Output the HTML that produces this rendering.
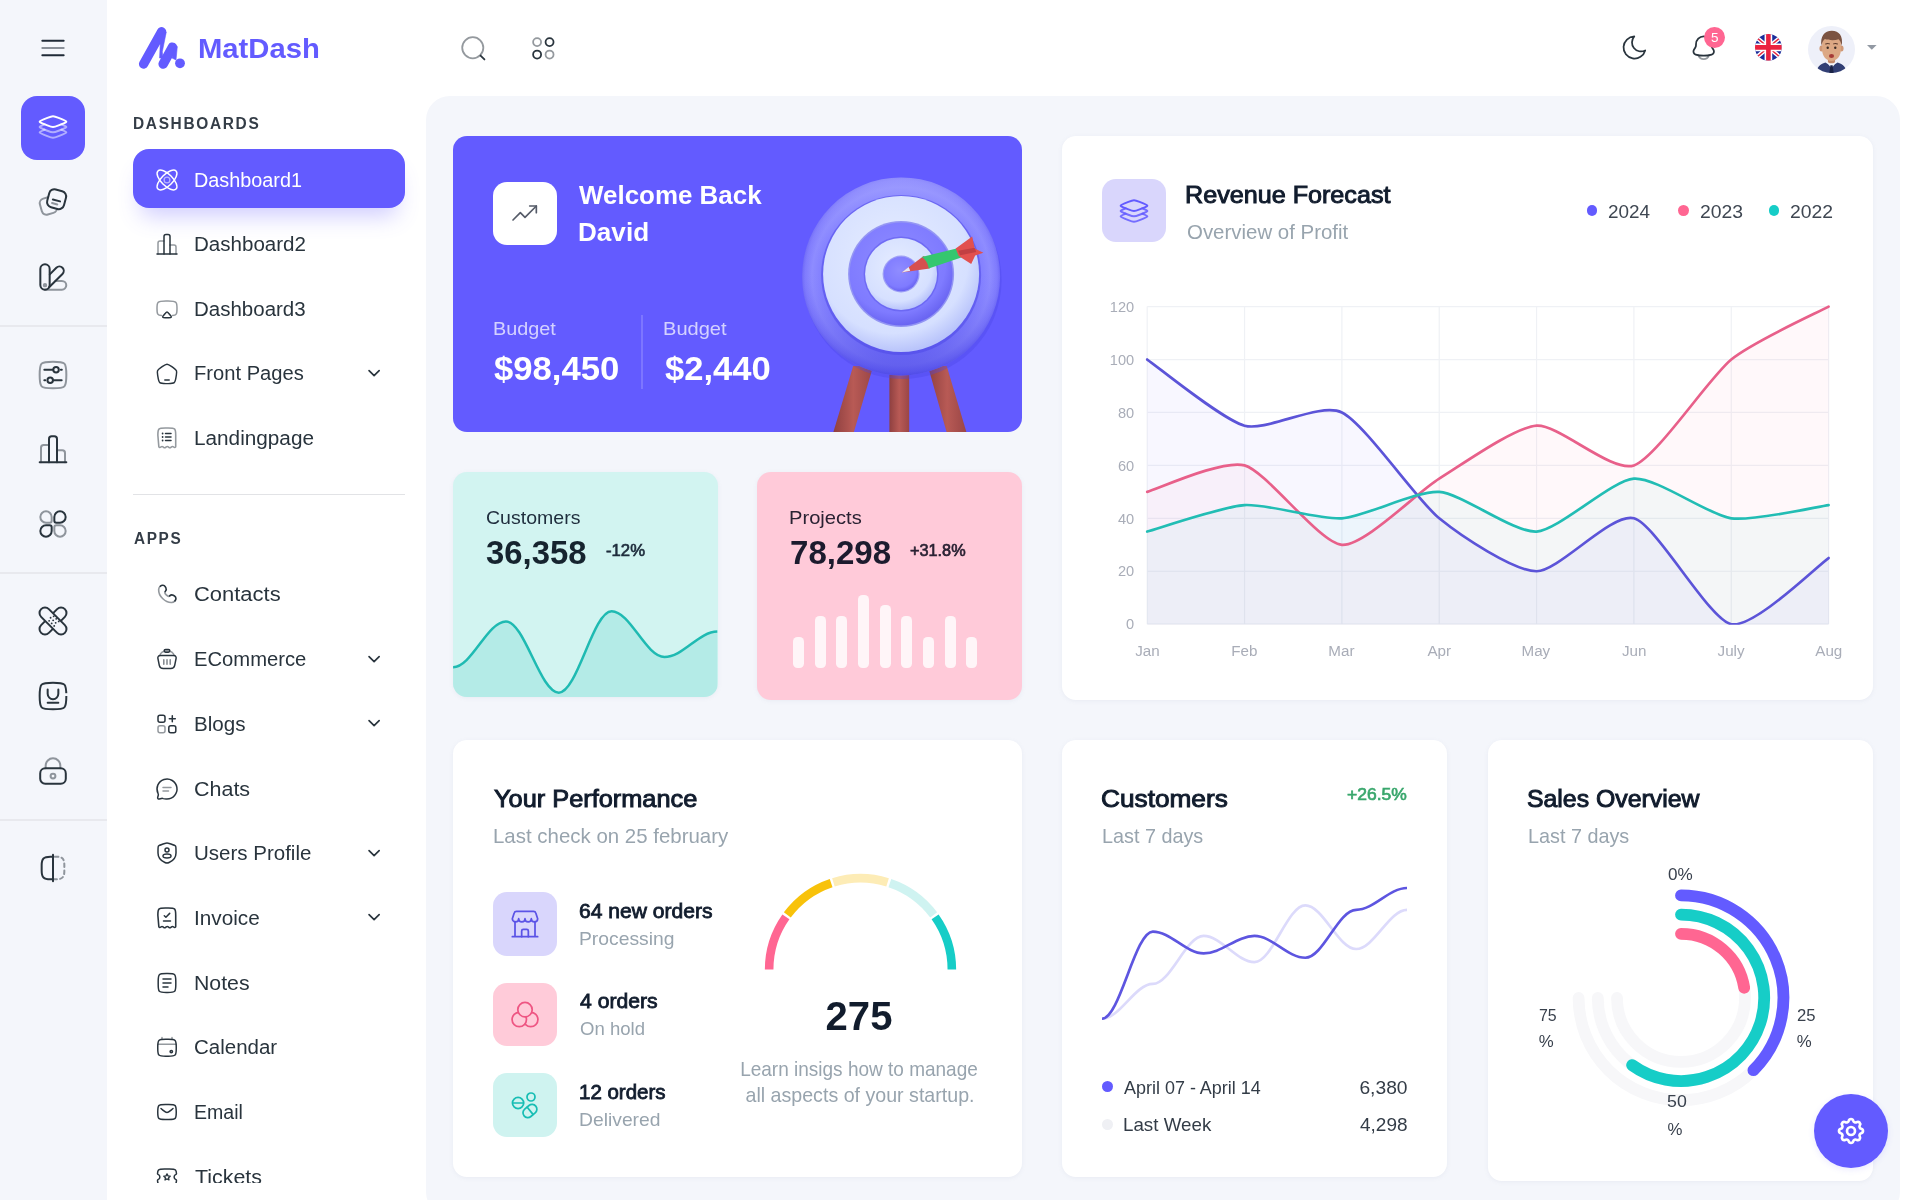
<!DOCTYPE html>
<html lang="en"><head><meta charset="utf-8"><title>MatDash</title>
<style>
*{box-sizing:border-box;margin:0;padding:0}
html,body{width:1920px;height:1200px;overflow:hidden;background:#fff;font-family:"Liberation Sans",sans-serif}
.t{position:absolute;white-space:nowrap;line-height:1em}
.i{position:absolute;fill:none;stroke:currentColor;stroke-linecap:round;stroke-linejoin:round;overflow:visible}
.b{position:absolute}
.card{position:absolute;background:#fff;border-radius:14px;box-shadow:0 1px 4px rgba(133,146,173,.10)}
svg.c{position:absolute;overflow:visible}
</style></head><body><div id="root" style="position:absolute;left:0;top:0;width:1920px;height:1200px;will-change:transform">
<div class="b" style="left:0;top:0;width:106.67px;height:1200px;background:#f4f6fb"></div><svg class="i" style="left:37.30px;top:31.80px;color:#1f2a37" width="32.00" height="32.00" viewBox="0 0 24 24" stroke-width="1.5"><path d="M4 6.6h16M4 17.4h16"/><path d="M4 12h16" opacity=".5"/></svg><div class="b" style="left:21.3px;top:96.2px;width:63.8px;height:63.4px;border-radius:16px;background:#635BFF"></div><svg class="i" style="left:37.20px;top:111.40px;color:#fff" width="32.00" height="32.00" viewBox="0 0 24 24" stroke-width="1.5"><path d="M4.979 9.685C2.993 8.891 2 8.494 2 8s.993-.89 2.979-1.685l2.808-1.123C9.773 4.397 10.767 4 12 4s2.227.397 4.213 1.192l2.808 1.123C21.007 7.109 22 7.506 22 8s-.993.89-2.979 1.685l-2.808 1.124C14.227 11.603 13.233 12 12 12s-2.227-.397-4.213-1.191z"/><path opacity=".5" d="M5.766 10l-.787.315C2.993 11.109 2 11.507 2 12s.993.89 2.979 1.685l2.808 1.124C9.773 15.603 10.767 16 12 16s2.227-.397 4.213-1.191l2.808-1.124C21.007 12.891 22 12.493 22 12s-.993-.89-2.979-1.685L18.234 10"/><path opacity=".5" d="M5.766 14l-.787.315C2.993 15.109 2 15.507 2 16s.993.89 2.979 1.685l2.808 1.124C9.773 19.603 10.767 20 12 20s2.227-.397 4.213-1.191l2.808-1.124C21.007 16.891 22 16.493 22 16s-.993-.89-2.979-1.685L18.234 14"/></svg><svg class="i" style="left:37.20px;top:186.00px;color:#29343d" width="32.00" height="32.00" viewBox="0 0 24 24" stroke-width="1.5"><rect x="-5.8" y="-6.2" width="11.6" height="12.4" rx="3.6" transform="translate(8.500 14.800) rotate(-16)" opacity=".5"/><rect x="-6.5" y="-6.9" width="13" height="13.8" rx="4" transform="translate(14.700 9.900) rotate(15)" fill="#f4f6fb"/><path d="M11.900 10.100l5.400 1.450"/><path d="M11.300 12.800l3.900 1.050" opacity=".5"/></svg><svg class="i" style="left:37.20px;top:261.00px;color:#29343d" width="32.00" height="32.00" viewBox="0 0 24 24" stroke-width="1.5"><path d="M13.800 15h4.900a3.250 3.250 0 0 1 0 6.500H6" opacity=".5"/><path d="M9.600 10l4.900-4.900a3.250 3.250 0 0 1 4.600 4.600L8.900 19.900"/><rect x="2.500" y="2.500" width="7" height="19" rx="3.500"/><circle cx="6" cy="18.100" r=".9" opacity=".5"/></svg><svg class="i" style="left:37.20px;top:358.50px;color:#29343d" width="32.00" height="32.00" viewBox="0 0 24 24" stroke-width="1.5"><path d="M2 12c0-4.714 0-7.071 1.464-8.536C4.93 2 7.286 2 12 2s7.071 0 8.535 1.464C22 4.93 22 7.286 22 12s0 7.071-1.465 8.535C19.072 22 16.714 22 12 22s-7.071 0-8.536-1.465C2 19.072 2 16.714 2 12Z" opacity=".5"/><circle cx="14.300" cy="8.100" r="2.050"/><path d="M5.500 8.100h6.300M17.900 8.100h.700"/><circle cx="9.900" cy="16" r="2.050"/><path d="M18.500 16h-6.100M6.200 16h-.700"/></svg><svg class="i" style="left:37.20px;top:433.00px;color:#29343d" width="32.00" height="32.00" viewBox="0 0 24 24" stroke-width="1.5"><path d="M2 22h20"/><path d="M9 22V4.5a2 2 0 0 1 2-2h2a2 2 0 0 1 2 2V22"/><path d="M3 22V11a2 2 0 0 1 2-2h4" opacity=".5"/><path d="M15 13h4a2 2 0 0 1 2 2v7" opacity=".5"/></svg><svg class="i" style="left:37.20px;top:508.00px;color:#29343d" width="32.00" height="32.00" viewBox="0 0 24 24" stroke-width="1.5"><path d="M2.5 6.75a4.25 4.25 0 0 1 8.5 0V9.5A1.5 1.5 0 0 1 9.5 11H6.75A4.25 4.25 0 0 1 2.5 6.75z" opacity=".5"/><path d="M13 6.75a4.25 4.25 0 1 1 4.25 4.25H14.5A1.5 1.5 0 0 1 13 9.500z"/><path d="M2.5 17.25A4.25 4.25 0 0 1 6.75 13H9.5a1.5 1.5 0 0 1 1.5 1.5v2.750a4.250 4.250 0 0 1-8.5 0z"/><path d="M13 14.5a1.5 1.5 0 0 1 1.5-1.5h2.75A4.25 4.25 0 1 1 13 17.250z" opacity=".5"/></svg><svg class="i" style="left:37.20px;top:605.00px;color:#29343d" width="32.00" height="32.00" viewBox="0 0 24 24" stroke-width="1.5"><rect x="-12.6" y="-4.1" width="25.2" height="8.2" rx="4.1" transform="translate(12 12) rotate(-45)"/><rect x="-12.6" y="-4.1" width="25.2" height="8.2" rx="4.1" transform="translate(12 12) rotate(45)" fill="#f4f6fb"/><g stroke-width="1.4"><path d="M10.2 9.6h.01M12.1 11.5h.01M14 13.4h.01M9.1 11.9h.01M11 13.8h.01M12.9 15.7h.01M12.500 8.500h.01M14.400 10.400h.01M16.300 12.300h.01"/></g></svg><svg class="i" style="left:37.20px;top:680.00px;color:#29343d" width="32.00" height="32.00" viewBox="0 0 24 24" stroke-width="1.5"><path d="M2 12c0-4.714 0-7.071 1.464-8.536C4.93 2 7.286 2 12 2s7.071 0 8.535 1.464C22 4.93 22 7.286 22 12s0 7.071-1.465 8.535C19.072 22 16.714 22 12 22s-7.071 0-8.536-1.465C2 19.072 2 16.714 2 12Z"/><path d="M22 9.900v2.100" stroke="#f4f6fb" stroke-width="3" stroke-linecap="butt"/><path d="M8 7.2v3.200a4 4 0 0 0 8 0V7.2M8 17h8"/></svg><svg class="i" style="left:37.20px;top:755.00px;color:#29343d" width="32.00" height="32.00" viewBox="0 0 24 24" stroke-width="1.5"><path d="M6.5 10V8a5.5 5.5 0 0 1 11 0v2" opacity=".5"/><rect x="2.4" y="10" width="19.2" height="11.600" rx="3.800"/><circle cx="12" cy="15.800" r="1.800" opacity=".5"/></svg><svg class="i" style="left:37.20px;top:852.00px;color:#29343d" width="32.00" height="32.00" viewBox="0 0 24 24" stroke-width="1.5"><path d="M12 3.500h-2C5 3.500 3.500 5 3.500 10v4c0 5 1.500 6.500 6.500 6.500h2"/><path d="M12 2v20"/><path d="M12 3.500h2c5 0 6.500 1.500 6.500 6.500v4c0 5-1.500 6.500-6.500 6.500h-2" opacity=".5" stroke-dasharray="2.600 2.500" stroke-dashoffset="-1.300"/></svg><div class="b" style="left:0;top:325.3px;width:106.67px;height:1.33px;background:#e8e9ee"></div><div class="b" style="left:0;top:572.3px;width:106.67px;height:1.33px;background:#e8e9ee"></div><div class="b" style="left:0;top:819.3px;width:106.67px;height:1.33px;background:#e8e9ee"></div><svg class="c" style="left:136px;top:24px" width="56" height="48" viewBox="0 0 56 48">
<g fill="#635BFF" stroke="#635BFF" stroke-linecap="round" stroke-linejoin="round">
<path d="M7.600 40L25.600 7.800" stroke-width="9.400" fill="none"/>
<path d="M30.200 8.400L26.300 27.700 26.800 34H23.600L24.200 20.800 21 12Z" stroke-width=".6"/>
<path d="M27.200 40L36.400 23.200" stroke-width="9.600" fill="none"/>
<path d="M38 24L41.300 22.500 40 36 36 34Z" stroke-width=".6"/>
<circle cx="44" cy="39.300" r="4.900" stroke="none"/></g></svg><span class="t" style="top:35px;font-size:27.40px;font-weight:700;color:#635BFF;left:198.23px;transform-origin:0 50%;transform:scaleX(1.0674);">MatDash</span><span class="t" style="top:116px;font-size:15.80px;font-weight:700;color:#343d47;letter-spacing:1.70px;left:132.62px;transform-origin:0 50%;transform:scaleX(0.9781);">DASHBOARDS</span><div class="b" style="left:133.3px;top:149.3px;width:272px;height:59px;border-radius:16px;background:#635BFF;box-shadow:0 16px 22px -8px rgba(99,91,255,.30)"></div><div class="b" style="left:106.67px;top:0;width:320px;height:1182.6px;overflow:hidden"><div class="b" style="left:-106.67px;top:0;width:1920px;height:1200px"><svg class="i" style="left:154.80px;top:167.80px;color:#fff" width="24.00" height="24.00" viewBox="0 0 24 24" stroke-width="1.5"><ellipse cx="12" cy="12" rx="12.800" ry="5.700" transform="rotate(45 12 12)"/><ellipse cx="12" cy="12" rx="12.800" ry="5.700" transform="rotate(-45 12 12)"/><circle cx="12" cy="12" r="2.900" opacity=".55" stroke-width="1.300"/></svg><span class="t" style="top:170px;font-size:20.00px;color:#fff;left:194.21px;transform-origin:0 50%;transform:scaleX(0.9903);">Dashboard1</span><svg class="i" style="left:154.80px;top:232.10px;color:#29343d" width="24.00" height="24.00" viewBox="0 0 24 24" stroke-width="1.5"><path d="M2 22h20"/><path d="M9 22V4.5a2 2 0 0 1 2-2h2a2 2 0 0 1 2 2V22"/><path d="M3 22V11a2 2 0 0 1 2-2h4" opacity=".5"/><path d="M15 13h4a2 2 0 0 1 2 2v7" opacity=".5"/></svg><span class="t" style="top:234px;font-size:20.00px;color:#29343d;left:194.17px;transform-origin:0 50%;transform:scaleX(1.0274);">Dashboard2</span><svg class="i" style="left:154.80px;top:296.80px;color:#29343d" width="24.00" height="24.00" viewBox="0 0 24 24" stroke-width="1.5"><path d="M6.500 18.500c-2-.100-3.100-.500-3.700-1.400C2 16 2 14.400 2 11.500s0-4.900 1-6C4.300 4 6.500 4 11 4h2c4.500 0 6.700 0 8 1.500 1 1.100 1 3.100 1 6s0 4.500-.800 5.600c-.600.900-1.700 1.300-3.700 1.400" opacity=".5"/><path d="M10.400 16.300c.700-.900 1.100-1.300 1.600-1.300s.900.400 1.600 1.300l1.700 2c.800 1 1.200 1.500 1 1.900-.300.500-.900.500-2.400.500h-3.800c-1.500 0-2.100 0-2.400-.500-.200-.400.200-.900 1-1.900z"/></svg><span class="t" style="top:299px;font-size:20.00px;color:#29343d;left:194.18px;transform-origin:0 50%;transform:scaleX(1.0246);">Dashboard3</span><svg class="i" style="left:154.80px;top:361.60px;color:#29343d" width="24.00" height="24.00" viewBox="0 0 24 24" stroke-width="1.5"><path d="M2.360 12.700c-.350-2.300-.530-3.450-.100-4.470.440-1.020 1.400-1.720 3.330-3.110L7.040 4.080C9.440 2.360 10.640 1.500 12 1.500s2.560.860 4.960 2.580l1.450 1.040c1.930 1.390 2.890 2.090 3.330 3.110.430 1.020.250 2.170-.100 4.470l-.300 1.970c-.500 3.270-.750 4.900-1.930 5.870-1.170.960-2.880.960-6.310.960h-2.200c-3.430 0-5.140 0-6.310-.960-1.180-.970-1.430-2.600-1.930-5.870z" transform="translate(12 12) scale(.97) translate(-12 -11.600)"/><path d="M9.800 18h4.400"/></svg><span class="t" style="top:363px;font-size:20.00px;color:#29343d;left:194.19px;transform-origin:0 50%;transform:scaleX(1.0079);">Front Pages</span><svg class="i" style="left:363.70px;top:363.00px;color:#29343d" width="20.20" height="20.20" viewBox="0 0 24 24" stroke-width="2.0"><path d="M6 9l6 6 6-6"/></svg><svg class="i" style="left:154.80px;top:426.20px;color:#29343d" width="24.00" height="24.00" viewBox="0 0 24 24" stroke-width="1.5"><path d="M3.500 9.500c0-3.300 0-4.950 1.020-5.980C5.550 2.500 7.200 2.500 10.500 2.500h3c3.300 0 4.950 0 5.980 1.020 1.020 1.030 1.020 2.680 1.020 5.980v10.800c0 .900-1 1.400-1.700.800l-.400-.300a1.500 1.500 0 0 0-1.900 0l-.600.500a1.500 1.500 0 0 1-1.900 0l-.600-.500a1.500 1.500 0 0 0-1.900 0l-.600.500a1.500 1.500 0 0 1-1.900 0l-.600-.500a1.500 1.500 0 0 0-1.900 0l-.400.300c-.700.600-1.700.100-1.700-.800z" transform="translate(12 12) scale(1.05 1.03) translate(-12.200 -12.150)" opacity=".5"/><path d="M10.500 7.500h5.500M10.500 11h5.500M10.500 14.500h5.500"/><path d="M7.600 7.500h.01M7.600 11h.01M7.600 14.500h.01" stroke-width="1.800"/></svg><span class="t" style="top:428px;font-size:20.00px;color:#29343d;left:194.16px;transform-origin:0 50%;transform:scaleX(1.0371);">Landingpage</span><svg class="i" style="left:154.80px;top:582.60px;color:#29343d" width="24.00" height="24.00" viewBox="0 0 24 24" stroke-width="1.5"><g transform="translate(12.300 11.300) scale(1.08) translate(-12 -12.400)"><path d="M5.530 4.930c1.390-1.390 3.610-1.210 4.510.390l.650 1.160c.580 1.050.350 2.420-.570 3.340"/><path d="M10.120 9.820s-1.120 1.120.910 3.150 3.150.910 3.150.910" opacity=".5"/><path d="M14.180 13.880c.920-.920 2.290-1.150 3.340-.570l1.160.650c1.590.890 1.770 3.110.380 4.500"/><path d="M19.060 18.460c-.840.840-1.860 1.490-3 1.530-1.910.070-5.150-.410-8.400-3.660S3.930 9.840 4 7.930c.040-1.140.690-2.160 1.530-3" opacity=".5"/></g></svg><span class="t" style="top:584px;font-size:20.00px;color:#29343d;left:194.10px;transform-origin:0 50%;transform:scaleX(1.0972);">Contacts</span><svg class="i" style="left:154.80px;top:647.40px;color:#29343d" width="24.00" height="24.00" viewBox="0 0 24 24" stroke-width="1.5"><path d="M2.900 11.300c-.300-1.500.700-2.800 2.200-2.800h13.800c1.500 0 2.500 1.300 2.200 2.800l-1.400 7c-.400 1.900-2 3.200-3.900 3.200H8.200c-1.900 0-3.500-1.300-3.900-3.200z"/><path d="M4.800 8.500C5.600 5.300 8.200 3.900 12 3.900s6.400 1.400 7.200 4.600" opacity=".5"/><rect x="9.200" y="2.400" width="5.600" height="2.800" rx="1.400"/><path d="M8.800 12.800v4.400M12 12.800v4.400M15.200 12.800v4.400" opacity=".6"/></svg><span class="t" style="top:649px;font-size:20.00px;color:#29343d;left:194.19px;transform-origin:0 50%;transform:scaleX(1.0108);">ECommerce</span><svg class="i" style="left:363.70px;top:648.80px;color:#29343d" width="20.20" height="20.20" viewBox="0 0 24 24" stroke-width="2.0"><path d="M6 9l6 6 6-6"/></svg><svg class="i" style="left:154.80px;top:712.00px;color:#29343d" width="24.00" height="24.00" viewBox="0 0 24 24" stroke-width="1.5"><rect x="3" y="3.200" width="7" height="7" rx="2"/><rect x="3" y="13.800" width="7" height="7" rx="2" opacity=".5"/><rect x="13.800" y="13.800" width="7" height="7" rx="2"/><path d="M17.300 3.700v6M14.300 6.700h6"/></svg><span class="t" style="top:714px;font-size:20.00px;color:#29343d;left:194.17px;transform-origin:0 50%;transform:scaleX(1.0300);">Blogs</span><svg class="i" style="left:363.70px;top:713.40px;color:#29343d" width="20.20" height="20.20" viewBox="0 0 24 24" stroke-width="2.0"><path d="M6 9l6 6 6-6"/></svg><svg class="i" style="left:154.80px;top:776.70px;color:#29343d" width="24.00" height="24.00" viewBox="0 0 24 24" stroke-width="1.5"><path d="M12 22a10 10 0 1 0-8.940-5.520c.270.540.360 1.160.200 1.740l-.590 2.230a1.300 1.300 0 0 0 1.590 1.590l2.230-.600c.580-.150 1.200-.060 1.740.210A9.960 9.960 0 0 0 12 22z"/><path d="M8 10.500h8M8 14h5.500" opacity=".5"/></svg><span class="t" style="top:779px;font-size:20.00px;color:#29343d;left:194.13px;transform-origin:0 50%;transform:scaleX(1.0733);">Chats</span><svg class="i" style="left:154.80px;top:841.40px;color:#29343d" width="24.00" height="24.00" viewBox="0 0 24 24" stroke-width="1.5"><path d="M3 10.420c0-3.200 0-4.800.380-5.330.370-.540 1.880-1.050 4.880-2.080l.570-.200C10.400 2.270 11.180 2 12 2s1.600.270 3.170.810l.570.200c3 1.030 4.510 1.540 4.880 2.080.380.530.380 2.130.380 5.330v1.570c0 5.640-4.240 8.380-6.900 9.540-.720.310-1.080.470-2.100.470s-1.380-.160-2.100-.470C7.240 20.370 3 17.630 3 11.990z"/><circle cx="12" cy="9" r="2"/><path d="M16 15c0 1.100 0 2-4 2s-4-.900-4-2 1.790-2 4-2 4 .900 4 2z"/></svg><span class="t" style="top:843px;font-size:20.00px;color:#29343d;left:194.17px;transform-origin:0 50%;transform:scaleX(1.0251);">Users Profile</span><svg class="i" style="left:363.70px;top:842.80px;color:#29343d" width="20.20" height="20.20" viewBox="0 0 24 24" stroke-width="2.0"><path d="M6 9l6 6 6-6"/></svg><svg class="i" style="left:154.80px;top:906.00px;color:#29343d" width="24.00" height="24.00" viewBox="0 0 24 24" stroke-width="1.5"><path d="M3.500 9.500c0-3.300 0-4.950 1.020-5.980C5.550 2.500 7.200 2.500 10.500 2.500h3c3.300 0 4.950 0 5.980 1.020 1.020 1.030 1.020 2.680 1.020 5.980v10.800c0 .900-1 1.400-1.700.800l-.400-.300a1.500 1.500 0 0 0-1.900 0l-.600.500a1.500 1.500 0 0 1-1.900 0l-.600-.500a1.500 1.500 0 0 0-1.900 0l-.600.500a1.500 1.500 0 0 1-1.900 0l-.600-.500a1.500 1.500 0 0 0-1.900 0l-.400.300c-.700.600-1.700.100-1.700-.800z" transform="translate(12 12) scale(1.05 1.03) translate(-12.200 -12.150)"/><path d="M9.300 9.700l1.600 1.500 3.800-3.800M8.500 15h7"/></svg><span class="t" style="top:908px;font-size:20.00px;color:#29343d;left:194.16px;transform-origin:0 50%;transform:scaleX(1.0362);">Invoice</span><svg class="i" style="left:363.70px;top:907.40px;color:#29343d" width="20.20" height="20.20" viewBox="0 0 24 24" stroke-width="2.0"><path d="M6 9l6 6 6-6"/></svg><svg class="i" style="left:154.80px;top:970.70px;color:#29343d" width="24.00" height="24.00" viewBox="0 0 24 24" stroke-width="1.5"><path d="M3.200 10.500c0-3.770 0-5.660 1.170-6.830S7.430 2.500 11.200 2.500h1.600c3.770 0 5.660 0 6.830 1.170s1.170 3.060 1.170 6.830v3c0 3.770 0 5.660-1.170 6.830s-3.060 1.170-6.830 1.170h-1.600c-3.770 0-5.660 0-6.830-1.170S3.200 17.270 3.200 13.500z"/><path d="M8 8h8M8 12h8M8 16h5"/></svg><span class="t" style="top:973px;font-size:20.00px;color:#29343d;left:194.14px;transform-origin:0 50%;transform:scaleX(1.0635);">Notes</span><svg class="i" style="left:154.80px;top:1035.40px;color:#29343d" width="24.00" height="24.00" viewBox="0 0 24 24" stroke-width="1.5"><path d="M2.750 12.250c0-3.770 0-5.660 1.170-6.830S6.980 4.250 10.750 4.250h2.500c3.770 0 5.660 0 6.830 1.170s1.170 3.060 1.170 6.830v1c0 3.770 0 5.660-1.170 6.830s-3.060 1.170-6.830 1.170h-2.500c-3.770 0-5.660 0-6.830-1.170S2.750 17.020 2.750 13.250z"/><path d="M7 4.250V2.600M17 4.250V2.600M3 9.300h18" opacity=".5"/><circle cx="16.300" cy="16.600" r="1.200"/></svg><span class="t" style="top:1037px;font-size:20.00px;color:#29343d;left:194.18px;transform-origin:0 50%;transform:scaleX(1.0248);">Calendar</span><svg class="i" style="left:154.80px;top:1100.00px;color:#29343d" width="24.00" height="24.00" viewBox="0 0 24 24" stroke-width="1.5"><path d="M2.750 12c0-3.540 0-5.300 1.100-6.400s2.860-1.100 6.400-1.100h3.500c3.540 0 5.300 0 6.400 1.100s1.100 2.860 1.100 6.400 0 5.300-1.100 6.400-2.860 1.100-6.400 1.100h-3.500c-3.540 0-5.300 0-6.400-1.100S2.750 15.540 2.750 12z"/><path d="M6.500 8.500l2.160 1.800c1.840 1.530 2.760 2.300 3.840 2.300s2-.770 3.840-2.300L18.500 8.500" transform="translate(-.5 0)"/></svg><span class="t" style="top:1102px;font-size:20.00px;color:#29343d;left:194.22px;transform-origin:0 50%;transform:scaleX(0.9780);">Email</span><svg class="i" style="left:154.80px;top:1165.20px;color:#29343d" width="24.00" height="24.00" viewBox="0 0 24 24" stroke-width="1.5"><path d="M9.5 4h5c3.3 0 4.95 0 5.98 1.020.750.760.950 1.850 1 3.680 0 .300-.200.550-.480.650a2.800 2.800 0 0 0 0 5.300c.280.100.480.350.480.650-.050 1.830-.250 2.920-1 3.680C19.450 20 17.800 20 14.500 20h-5c-3.300 0-4.950 0-5.980-1.020-.750-.760-.950-1.850-1-3.680 0-.300.200-.550.480-.650a2.800 2.800 0 0 0 0-5.300c-.280-.100-.480-.350-.480-.650.050-1.830.250-2.920 1-3.680C4.550 4 6.200 4 9.500 4z"/><path d="M12 8.900l1 2 2.200.320-1.600 1.560.380 2.190L12 13.940l-1.980 1.030.380-2.190-1.600-1.560 2.200-.320z" stroke-width="1.300"/></svg><span class="t" style="top:1167px;font-size:20.00px;color:#29343d;left:195.20px;transform-origin:0 50%;transform:scaleX(1.0703);">Tickets</span></div></div><div class="b" style="left:133.3px;top:493.8px;width:272px;height:1.33px;background:#e2e3e6"></div><span class="t" style="top:531px;font-size:15.80px;font-weight:700;color:#343d47;letter-spacing:1.70px;left:133.80px;transform-origin:0 50%;transform:scaleX(0.9710);">APPS</span><svg class="i" style="left:459.70px;top:34.70px;color:#29343d" width="26.67" height="26.67" viewBox="0 0 24 24" stroke-width="1.6"><circle cx="11.500" cy="11.500" r="9.500" opacity=".5"/><path d="M18.500 18.500L22 22"/></svg><svg class="i" style="left:529.67px;top:34.67px;color:#29343d" width="26.67" height="26.67" viewBox="0 0 24 24" stroke-width="1.6"><circle cx="6.400" cy="6.400" r="3.600" opacity=".5"/><circle cx="17.600" cy="6.400" r="3.600"/><circle cx="6.400" cy="17.600" r="3.600"/><circle cx="17.600" cy="17.600" r="3.600" opacity=".5"/></svg><svg class="i" style="left:1621.00px;top:34.40px;color:#29343d" width="27.00" height="27.00" viewBox="0 0 24 24" stroke-width="1.55"><path d="M11.800 2.200A9.800 9.800 0 1 0 21.500 14.600 8 8 0 0 1 11.800 2.200Z"/></svg><svg class="i" style="left:1690.40px;top:34.40px;color:#29343d" width="27.40" height="27.40" viewBox="0 0 24 24" stroke-width="1.55"><path d="M18.750 9.710v-.705C18.750 5.136 15.726 2 12 2S5.250 5.136 5.250 9.005v.705a4.400 4.400 0 0 1-.692 2.375L3.450 13.810c-1.011 1.575-.239 3.716 1.520 4.214a25.800 25.800 0 0 0 14.060 0c1.759-.498 2.531-2.639 1.520-4.213l-1.108-1.725a4.400 4.400 0 0 1-.693-2.375Z"/><path d="M7.500 19c.655 1.748 2.422 3 4.500 3s3.845-1.252 4.500-3" opacity=".5"/></svg><div class="b" style="left:1704px;top:27.2px;width:20.8px;height:20.8px;border-radius:50%;background:#FF6692"></div><span class="t" style="top:31px;font-size:13.50px;color:#fff;left:1714.65px;transform:translateX(-50%);">5</span><svg class="c" style="left:1754.6px;top:34.2px" width="26.800" height="26.800" viewBox="0 0 28 28">
<defs><clipPath id="fl"><circle cx="14" cy="14" r="14"/></clipPath></defs>
<g clip-path="url(#fl)"><rect width="28" height="28" fill="#1b2d9b"/>
<path d="M-4 -1L32 29M32 -1L-4 29" stroke="#fff" stroke-width="4.400"/>
<path d="M-4 -1L32 29M32 -1L-4 29" stroke="#e8243c" stroke-width="1.500"/>
<path d="M14 0v28M0 14h28" stroke="#fff" stroke-width="8"/>
<path d="M14 0v28M0 14h28" stroke="#ea2240" stroke-width="4.800"/></g></svg><svg class="c" style="left:1808.2px;top:25.6px" width="47" height="47" viewBox="0 0 46 46">
<defs><clipPath id="av"><circle cx="23" cy="23" r="23"/></clipPath></defs>
<g clip-path="url(#av)"><rect width="46" height="46" fill="#eef0f9"/>
<path d="M8 47c0-6 3.500-9.500 9-11.200l6 3.700 6-3.700c5.500 1.700 9 5.200 9 11.200z" fill="#323f74"/>
<path d="M18.200 35.300L23 41.500l4.800-6.200L23 33.500z" fill="#f4f5fb"/>
<path d="M21.900 38.300h2.200l1.100 8.200h-4.400z" fill="#1b2347"/>
<rect x="19.500" y="28" width="7" height="8.500" rx="2" fill="#c48a6a"/>
<ellipse cx="13.200" cy="22" rx="2" ry="3" fill="#cf9877"/><ellipse cx="32.800" cy="22" rx="2" ry="3" fill="#cf9877"/>
<path d="M13.800 17c0-6 3.700-9 9.200-9s9.200 3 9.200 9v6c0 6.500-4 11.200-9.200 11.200S13.800 29.500 13.800 23z" fill="#dca884"/>
<path d="M13.100 19.500C11.800 10 16 4.600 23.400 4.600c7 0 11.200 5 9.600 14.900-.700-3.200-1.500-5.200-3-6.500-4 1.300-9.500 1.100-13.500-.300-1.800 1.500-2.800 3.600-3.400 6.800z" fill="#7b5342"/>
<path d="M17.300 17.600c1.200-.700 2.600-.700 3.800-.100M25 17.500c1.200-.600 2.600-.600 3.800.100" stroke="#5b3a2d" stroke-width="1" fill="none" stroke-linecap="round"/>
<ellipse cx="23" cy="29.300" rx="2.500" ry="1.900" fill="#a53a36"/>
<circle cx="19.300" cy="21.300" r="1.150" fill="#3a2a24"/><circle cx="26.700" cy="21.300" r="1.150" fill="#3a2a24"/>
</g></svg><svg class="c" style="left:1867.2px;top:44.500px" width="9.600" height="5"><path d="M0 0h9.600L4.800 4.800z" fill="#9299a3"/></svg><div class="b" style="left:426.3px;top:96.3px;width:1473.7px;height:1120px;border-radius:24px;background:#f4f6fb"></div><div class="b" style="left:453.3px;top:136px;width:568.7px;height:296px;border-radius:14px;background:#635BFF;overflow:hidden"><svg class="c" style="left:0;top:0" width="568.7" height="296" viewBox="453.3 136 568.7 296">
<defs>
<radialGradient id="g0" cx="50%" cy="50%" r="50%"><stop offset="0" stop-color="#7a77ff"/><stop offset=".78" stop-color="#7f7cff"/><stop offset=".9" stop-color="#8e8cff"/><stop offset=".97" stop-color="#7f7bfd"/><stop offset="1" stop-color="#6f6af6"/></radialGradient>
<linearGradient id="gs" x1="0" y1="0" x2="0" y2="1"><stop offset="0" stop-color="#a9a9ff" stop-opacity=".55"/><stop offset=".45" stop-color="#8a87ff" stop-opacity="0"/><stop offset="1" stop-color="#3f3be0" stop-opacity=".65"/></linearGradient>
<radialGradient id="g1" cx="45%" cy="40%" r="60%"><stop offset="0" stop-color="#e6edff"/><stop offset=".8" stop-color="#d6e0ff"/><stop offset="1" stop-color="#b9c4fb"/></radialGradient>
<radialGradient id="g2" cx="45%" cy="40%" r="60%"><stop offset="0" stop-color="#8f8cff"/><stop offset=".8" stop-color="#7f7bff"/><stop offset="1" stop-color="#6a65f2"/></radialGradient>
<linearGradient id="leg" x1="0" y1="0" x2="1" y2="0"><stop offset="0" stop-color="#8f4040"/><stop offset=".5" stop-color="#b85a55"/><stop offset="1" stop-color="#9a4646"/></linearGradient>
</defs>
<path d="M853.5 366L873.5 366L854.200 432L833.700 432Z" fill="url(#leg)"/>
<path d="M928.200 366L947 366L966.700 432L946.900 432Z" fill="url(#leg)"/>
<path d="M889.700 366H909.500V432H889.700Z" fill="url(#leg)"/>
<ellipse cx="901.400" cy="277" rx="99" ry="99" fill="#4a45e6" opacity=".35" transform="translate(1.500 3)"/>
<circle cx="901.400" cy="276.400" r="99" fill="url(#g0)"/>
<circle cx="901.400" cy="276.400" r="99" fill="url(#gs)"/>
<circle cx="901.400" cy="275" r="80" fill="#4f49e8" opacity=".55"/>
<circle cx="901.400" cy="274" r="78" fill="url(#g1)"/>
<circle cx="901.400" cy="274" r="53" fill="#5a55ea" opacity=".55"/>
<circle cx="901.400" cy="274" r="51.500" fill="url(#g2)"/>
<circle cx="901.400" cy="274" r="37.500" fill="#5a55ea" opacity=".5"/>
<circle cx="901.400" cy="274" r="36" fill="url(#g1)"/>
<circle cx="901.400" cy="274" r="18.500" fill="#5d58ee" opacity=".5"/>
<circle cx="901.400" cy="274" r="17.300" fill="url(#g2)"/>
<path d="M902 272.500L924 256C927.500 257.500 930.500 262.500 930 268.500Z" fill="#d6504f"/>
<path d="M902 272.500L909 267 910.500 270.800Z" fill="#e6e9f7"/>
<path d="M922 257L961 247.500 964.500 256.500 929 268.500C928.500 264 926 259.500 922 257Z" fill="#35c76f"/>
<path d="M956 248.500L972.500 236.500 975 248.500 983.700 252.800 975.500 255.500 971.500 264 959 256Z" fill="#e2504f"/>
<path d="M958.500 250.800L975 247.800 976.500 252 960.500 255.300Z" fill="#c23f43"/>
</svg></div><div class="b" style="left:493.2px;top:181.5px;width:63.6px;height:63.8px;border-radius:14px;background:#fff"></div><svg class="i" style="left:509.00px;top:197.60px;color:#555b68" width="32.00" height="32.00" viewBox="0 0 24 24" stroke-width="1.25"><path d="M3 16.500l5.500-5.500 3.500 3.500 8.500-8.500"/><path d="M15.500 6h5v5"/></svg><span class="t" style="top:183px;font-size:25.20px;font-weight:700;color:#fff;left:579.40px;transform-origin:0 50%;transform:scaleX(1.0296);">Welcome Back</span><span class="t" style="top:220px;font-size:25.20px;font-weight:700;color:#fff;left:578.36px;transform-origin:0 50%;transform:scaleX(1.0362);">David</span><span class="t" style="top:320px;font-size:18.20px;color:rgba(255,255,255,.72);left:492.81px;transform-origin:0 50%;transform:scaleX(1.0885);">Budget</span><span class="t" style="top:320px;font-size:18.20px;color:rgba(255,255,255,.72);left:663.30px;transform-origin:0 50%;transform:scaleX(1.1026);">Budget</span><span class="t" style="top:352px;font-size:33.00px;font-weight:700;color:#fff;left:494.20px;transform-origin:0 50%;transform:scaleX(1.0497);">$98,450</span><span class="t" style="top:352px;font-size:33.00px;font-weight:700;color:#fff;left:665.00px;transform-origin:0 50%;transform:scaleX(1.0464);">$2,440</span><div class="b" style="left:641.2px;top:314.6px;width:1.33px;height:74px;background:rgba(255,255,255,.17)"></div><div class="b" style="left:453.4px;top:472px;width:264.2px;height:225.4px;border-radius:14px;background:#d2f4f1;overflow:hidden;box-shadow:0 1px 4px rgba(133,146,173,.10)"><svg class="c" style="left:0;top:0" width="264.3" height="226.5" viewBox="453.3 472 264.3 226.5"><path d="M453.4 667.2C471.89 667.2 487.75 621.39 506.24 621.39C524.73 621.39 540.59 692.65 559.08 692.65C577.57 692.65 593.43 611.21 611.92 611.21C630.41 611.21 646.27 657.02 664.76 657.02C683.25 657.02 699.11 631.57 717.6 631.57V700H453.3Z" fill="#b4ebe7"/><path d="M453.4 667.2C471.89 667.2 487.75 621.39 506.24 621.39C524.73 621.39 540.59 692.65 559.08 692.65C577.57 692.65 593.43 611.21 611.92 611.21C630.41 611.21 646.27 657.02 664.76 657.02C683.25 657.02 699.11 631.57 717.6 631.57" fill="none" stroke="#1fbab2" stroke-width="2.500"/></svg></div><span class="t" style="top:509px;font-size:18.40px;color:#1f2d3d;left:485.80px;transform-origin:0 50%;transform:scaleX(1.0618);">Customers</span><span class="t" style="top:537px;font-size:32.60px;font-weight:700;color:#16242f;left:486.40px;transform-origin:0 50%;transform:scaleX(1.0088);">36,358</span><span class="t" style="top:542px;font-size:16.20px;-webkit-text-stroke:0.65px #1f2d3d;color:#1f2d3d;left:606.20px;transform-origin:0 50%;transform:scaleX(1.0322);">-12%</span><div class="b" style="left:757px;top:471.8px;width:265px;height:228.2px;border-radius:14px;background:#ffcad9;box-shadow:0 1px 4px rgba(133,146,173,.10)"></div><span class="t" style="top:509px;font-size:18.40px;color:#2a2233;left:788.71px;transform-origin:0 50%;transform:scaleX(1.0945);">Projects</span><span class="t" style="top:537px;font-size:32.60px;font-weight:700;color:#1c1b2e;left:789.79px;transform-origin:0 50%;transform:scaleX(1.0150);">78,298</span><span class="t" style="top:542px;font-size:16.20px;-webkit-text-stroke:0.65px #2a2233;color:#2a2233;left:910.20px;transform-origin:0 50%;transform:scaleX(1.0044);">+31.8%</span><div class="b" style="left:793.25px;top:636.54px;width:11px;height:31.26px;border-radius:4.500px;background:rgba(255,255,255,.80)"></div><div class="b" style="left:814.87px;top:615.70px;width:11px;height:52.10px;border-radius:4.500px;background:rgba(255,255,255,.80)"></div><div class="b" style="left:836.49px;top:615.70px;width:11px;height:52.10px;border-radius:4.500px;background:rgba(255,255,255,.80)"></div><div class="b" style="left:858.11px;top:594.86px;width:11px;height:72.94px;border-radius:4.500px;background:rgba(255,255,255,.80)"></div><div class="b" style="left:879.73px;top:605.28px;width:11px;height:62.52px;border-radius:4.500px;background:rgba(255,255,255,.80)"></div><div class="b" style="left:901.35px;top:615.70px;width:11px;height:52.10px;border-radius:4.500px;background:rgba(255,255,255,.80)"></div><div class="b" style="left:922.97px;top:636.54px;width:11px;height:31.26px;border-radius:4.500px;background:rgba(255,255,255,.80)"></div><div class="b" style="left:944.59px;top:615.70px;width:11px;height:52.10px;border-radius:4.500px;background:rgba(255,255,255,.80)"></div><div class="b" style="left:966.21px;top:636.54px;width:11px;height:31.26px;border-radius:4.500px;background:rgba(255,255,255,.80)"></div><div class="card" style="left:1061.8px;top:136px;width:811.5px;height:563.5px"></div><div class="b" style="left:1102.1px;top:178.6px;width:63.6px;height:63.8px;border-radius:14px;background:#d9d6fc"></div><svg class="i" style="left:1118.00px;top:194.50px;color:#635BFF" width="32.00" height="32.00" viewBox="0 0 24 24" stroke-width="1.5"><path d="M4.979 9.685C2.993 8.891 2 8.494 2 8s.993-.89 2.979-1.685l2.808-1.123C9.773 4.397 10.767 4 12 4s2.227.397 4.213 1.192l2.808 1.123C21.007 7.109 22 7.506 22 8s-.993.89-2.979 1.685l-2.808 1.124C14.227 11.603 13.233 12 12 12s-2.227-.397-4.213-1.191z"/><path opacity=".85" d="M5.766 10l-.787.315C2.993 11.109 2 11.507 2 12s.993.89 2.979 1.685l2.808 1.124C9.773 15.603 10.767 16 12 16s2.227-.397 4.213-1.191l2.808-1.124C21.007 12.891 22 12.493 22 12s-.993-.89-2.979-1.685L18.234 10"/><path opacity=".85" d="M5.766 14l-.787.315C2.993 15.109 2 15.507 2 16s.993.89 2.979 1.685l2.808 1.124C9.773 19.603 10.767 20 12 20s2.227-.397 4.213-1.191l2.808-1.124C21.007 16.891 22 16.493 22 16s-.993-.89-2.979-1.685L18.234 14"/></svg><span class="t" style="top:183px;font-size:24.60px;-webkit-text-stroke:0.98px #111c2d;color:#111c2d;left:1185.46px;transform-origin:0 50%;transform:scaleX(1.0225);">Revenue Forecast</span><span class="t" style="top:222px;font-size:20.40px;color:#98a4ae;left:1187.20px;transform-origin:0 50%;transform:scaleX(1.0022);">Overview of Profit</span><div class="b" style="left:1586.70px;top:205.400px;width:10.800px;height:10.800px;border-radius:50%;background:#635BFF"></div><span class="t" style="top:202px;font-size:19.20px;color:#3f4752;left:1608.20px;transform-origin:0 50%;transform:scaleX(0.9857);">2024</span><div class="b" style="left:1677.90px;top:205.400px;width:10.800px;height:10.800px;border-radius:50%;background:#FF6692"></div><span class="t" style="top:202px;font-size:19.20px;color:#3f4752;left:1699.80px;transform-origin:0 50%;transform:scaleX(1.0092);">2023</span><div class="b" style="left:1768.70px;top:205.400px;width:10.800px;height:10.800px;border-radius:50%;background:#16CDC7"></div><span class="t" style="top:202px;font-size:19.20px;color:#3f4752;left:1790.40px;transform-origin:0 50%;transform:scaleX(1.0092);">2022</span><svg class="c" style="left:0;top:0" width="1920" height="1200" viewBox="0 0 1920 1200"><g stroke="#eff1f5" stroke-width="1.2" fill="none"><path d="M1147.2 624.2H1828.6"/><path d="M1147.2 571.27H1828.6"/><path d="M1147.2 518.33H1828.6"/><path d="M1147.2 465.4H1828.6"/><path d="M1147.2 412.47H1828.6"/><path d="M1147.2 359.53H1828.6"/><path d="M1147.2 306.6H1828.6"/><path d="M1147.2 306.6V624.2"/><path d="M1244.54 306.6V624.2"/><path d="M1341.89 306.6V624.2"/><path d="M1439.23 306.6V624.2"/><path d="M1536.57 306.6V624.2"/><path d="M1633.91 306.6V624.2"/><path d="M1731.26 306.6V624.2"/><path d="M1828.6 306.6V624.2"/></g><defs><clipPath id="rc"><rect x="1145.2" y="303.6" width="685.4" height="321.2"/></clipPath></defs><g clip-path="url(#rc)"><path d="M1147.2 359.53C1158.39 367.14 1222.15 419.61 1244.54 425.7C1266.93 431.79 1319.5 401.81 1341.89 412.47C1364.27 423.12 1416.84 500.07 1439.23 518.33C1461.62 536.6 1514.18 571.27 1536.57 571.27C1558.96 571.27 1611.53 512.25 1633.91 518.33C1656.3 524.42 1708.87 619.63 1731.26 624.2C1753.65 628.77 1817.41 565.64 1828.6 558.03V624.2H1147.2Z" fill="#635BFF" fill-opacity=".046"/><path d="M1147.2 491.87C1158.39 488.82 1222.15 459.31 1244.54 465.4C1266.93 471.49 1319.5 543.28 1341.89 544.8C1364.27 546.32 1416.84 492.33 1439.23 478.63C1461.62 464.94 1514.18 427.22 1536.57 425.7C1558.96 424.18 1611.53 473.01 1633.91 465.4C1656.3 457.79 1708.87 377.8 1731.26 359.53C1753.65 341.27 1817.41 312.69 1828.6 306.6V624.2H1147.2Z" fill="#FF6692" fill-opacity=".046"/><path d="M1147.2 531.57C1158.39 528.52 1222.15 506.62 1244.54 505.1C1266.93 503.58 1319.5 519.86 1341.89 518.33C1364.27 516.81 1416.84 490.34 1439.23 491.87C1461.62 493.39 1514.18 533.09 1536.57 531.57C1558.96 530.04 1611.53 480.16 1633.91 478.63C1656.3 477.11 1708.87 515.29 1731.26 518.33C1753.65 521.38 1817.41 506.62 1828.6 505.1V624.2H1147.2Z" fill="#16CDC7" fill-opacity=".046"/><path d="M1147.2 359.53C1158.39 367.14 1222.15 419.61 1244.54 425.7C1266.93 431.79 1319.5 401.81 1341.89 412.47C1364.27 423.12 1416.84 500.07 1439.23 518.33C1461.62 536.6 1514.18 571.27 1536.57 571.27C1558.96 571.27 1611.53 512.25 1633.91 518.33C1656.3 524.42 1708.87 619.63 1731.26 624.2C1753.65 628.77 1817.41 565.64 1828.6 558.03" fill="none" stroke="#5c54d8" stroke-width="2.670" stroke-linecap="round"/><path d="M1147.2 491.87C1158.39 488.82 1222.15 459.31 1244.54 465.4C1266.93 471.49 1319.5 543.28 1341.89 544.8C1364.27 546.32 1416.84 492.33 1439.23 478.63C1461.62 464.94 1514.18 427.22 1536.57 425.7C1558.96 424.18 1611.53 473.01 1633.91 465.4C1656.3 457.79 1708.87 377.8 1731.26 359.53C1753.65 341.27 1817.41 312.69 1828.6 306.6" fill="none" stroke="#e8608a" stroke-width="2.670" stroke-linecap="round"/><path d="M1147.2 531.57C1158.39 528.52 1222.15 506.62 1244.54 505.1C1266.93 503.58 1319.5 519.86 1341.89 518.33C1364.27 516.81 1416.84 490.34 1439.23 491.87C1461.62 493.39 1514.18 533.09 1536.57 531.57C1558.96 530.04 1611.53 480.16 1633.91 478.63C1656.3 477.11 1708.87 515.29 1731.26 518.33C1753.65 521.38 1817.41 506.62 1828.6 505.1" fill="none" stroke="#22bdb4" stroke-width="2.670" stroke-linecap="round"/></g></svg><span class="t" style="top:617px;font-size:14.60px;color:#a9adb8;right:785.88px;">0</span><span class="t" style="top:564px;font-size:14.60px;color:#a9adb8;right:785.88px;">20</span><span class="t" style="top:512px;font-size:14.60px;color:#a9adb8;right:785.88px;">40</span><span class="t" style="top:459px;font-size:14.60px;color:#a9adb8;right:785.88px;">60</span><span class="t" style="top:406px;font-size:14.60px;color:#a9adb8;right:785.88px;">80</span><span class="t" style="top:353px;font-size:14.60px;color:#a9adb8;right:785.88px;">100</span><span class="t" style="top:300px;font-size:14.60px;color:#a9adb8;right:785.88px;">120</span><span class="t" style="top:643px;font-size:15.20px;color:#a9adb8;left:1147.42px;transform:translateX(-50%);">Jan</span><span class="t" style="top:643px;font-size:15.20px;color:#a9adb8;left:1244.27px;transform:translateX(-50%);">Feb</span><span class="t" style="top:643px;font-size:15.20px;color:#a9adb8;left:1341.41px;transform:translateX(-50%);">Mar</span><span class="t" style="top:643px;font-size:15.20px;color:#a9adb8;left:1439.26px;transform:translateX(-50%);">Apr</span><span class="t" style="top:643px;font-size:15.20px;color:#a9adb8;left:1535.87px;transform:translateX(-50%);">May</span><span class="t" style="top:643px;font-size:15.20px;color:#a9adb8;left:1634.14px;transform:translateX(-50%);">Jun</span><span class="t" style="top:643px;font-size:15.20px;color:#a9adb8;left:1731.05px;transform:translateX(-50%);">July</span><span class="t" style="top:643px;font-size:15.20px;color:#a9adb8;left:1828.82px;transform:translateX(-50%);">Aug</span><div class="card" style="left:453.3px;top:740px;width:568.7px;height:437px"></div><span class="t" style="top:787px;font-size:24.60px;-webkit-text-stroke:0.98px #111c2d;color:#111c2d;left:493.70px;transform-origin:0 50%;transform:scaleX(1.0303);">Your Performance</span><span class="t" style="top:826px;font-size:20.40px;color:#98a4ae;left:492.90px;transform-origin:0 50%;transform:scaleX(1.0024);">Last check on 25 february</span><div class="b" style="left:493.2px;top:892.0px;width:63.600px;height:63.800px;border-radius:14px;background:#d9d6fc"></div><svg class="i" style="left:509.00px;top:908.00px;color:#5b53e6" width="32.00" height="32.00" viewBox="0 0 24 24" stroke-width="1.3"><path d="M5.600 2.500h12.800c.800 0 1.500.500 1.700 1.200L21.500 8a2.375 2.375 0 0 1-4.750 0 2.375 2.375 0 0 1-4.750 0 2.375 2.375 0 0 1-4.750 0 2.375 2.375 0 0 1-4.750 0l1.400-4.300c.200-.700.900-1.200 1.700-1.200z"/><path d="M4.500 10.300v11.200M19.500 10.300v11.200M2.500 21.500h19"/><path d="M9.500 21.500v-4.300a1.200 1.200 0 0 1 1.200-1.200h2.600a1.200 1.200 0 0 1 1.200 1.200v4.300"/></svg><span class="t" style="top:901px;font-size:20.20px;-webkit-text-stroke:0.81px #111c2d;color:#111c2d;left:578.56px;transform-origin:0 50%;transform:scaleX(1.0439);">64 new orders</span><span class="t" style="top:930px;font-size:18.40px;color:#98a4ae;left:578.55px;transform-origin:0 50%;transform:scaleX(1.0496);">Processing</span><div class="b" style="left:493.2px;top:982.7px;width:63.600px;height:63.800px;border-radius:14px;background:#ffcbd9"></div><svg class="i" style="left:509.00px;top:998.70px;color:#ee5683" width="32.00" height="32.00" viewBox="0 0 24 24" stroke-width="1.3"><circle cx="16.300" cy="15.400" r="5.400"/><circle cx="7.700" cy="15.400" r="5.400" fill="#ffcbd9"/><circle cx="12" cy="8" r="5.400" fill="#ffcbd9"/></svg><span class="t" style="top:991px;font-size:20.20px;-webkit-text-stroke:0.81px #111c2d;color:#111c2d;left:579.60px;transform-origin:0 50%;transform:scaleX(1.0478);">4 orders</span><span class="t" style="top:1020px;font-size:18.40px;color:#98a4ae;left:579.60px;transform-origin:0 50%;transform:scaleX(1.0096);">On hold</span><div class="b" style="left:493.2px;top:1073.4px;width:63.600px;height:63.800px;border-radius:14px;background:#cff3f0"></div><svg class="i" style="left:509.00px;top:1089.40px;color:#17bdb4" width="32.00" height="32.00" viewBox="0 0 24 24" stroke-width="1.3"><circle cx="6.800" cy="10.500" r="4.200"/><path d="M2.800 10.500h8"/><circle cx="16.500" cy="6" r="3"/><rect x="-5.700" y="-3.600" width="11.400" height="7.200" rx="3.600" transform="translate(15.700 16.500) rotate(-40)"/><path d="M13.700 13.700l4.300 5.300"/></svg><span class="t" style="top:1082px;font-size:20.20px;-webkit-text-stroke:0.81px #111c2d;color:#111c2d;left:578.59px;transform-origin:0 50%;transform:scaleX(1.0144);">12 orders</span><span class="t" style="top:1111px;font-size:18.40px;color:#98a4ae;left:578.55px;transform-origin:0 50%;transform:scaleX(1.0490);">Delivered</span><svg class="c" style="left:0;top:0" width="1920" height="1200" viewBox="0 0 1920 1200"><g fill="none" stroke-width="8.600"><path d="M769.15 969.6A91.35 91.35 0 0 1 785.9 916.88" stroke="#FF6692"/><path d="M787.31 914.94A91.35 91.35 0 0 1 831.14 883.1" stroke="#F8C20A"/><path d="M833.41 882.36A91.35 91.35 0 0 1 887.59 882.36" stroke="#fdecb6"/><path d="M889.86 883.1A91.35 91.35 0 0 1 933.69 914.94" stroke="#cff3f1"/><path d="M935.1 916.88A91.35 91.35 0 0 1 951.85 969.6" stroke="#16CDC7"/></g></svg><span class="t" style="top:996px;font-size:40.40px;font-weight:700;color:#111c2d;left:859.23px;transform:translateX(-50%) scaleX(0.9920);">275</span><span class="t" style="top:1059px;font-size:20.40px;color:#98a4ae;left:859.39px;transform:translateX(-50%) scaleX(0.9318);">Learn insigs how to manage</span><span class="t" style="top:1085px;font-size:20.40px;color:#98a4ae;left:860.20px;transform:translateX(-50%) scaleX(0.9622);">all aspects of your startup.</span><div class="card" style="left:1061.8px;top:740px;width:385.6px;height:437px"></div><span class="t" style="top:787px;font-size:24.60px;-webkit-text-stroke:0.98px #111c2d;color:#111c2d;left:1101.13px;transform-origin:0 50%;transform:scaleX(1.0663);">Customers</span><span class="t" style="top:826px;font-size:20.40px;color:#98a4ae;left:1101.63px;transform-origin:0 50%;transform:scaleX(0.9700);">Last 7 days</span><span class="t" style="top:787px;font-size:16.60px;-webkit-text-stroke:0.66px #3aa76d;color:#3aa76d;right:513.26px;transform-origin:100% 50%;transform:scaleX(1.0529);">+26.5%</span><svg class="c" style="left:0;top:0" width="1920" height="1200" viewBox="0 0 1920 1200"><g fill="none" stroke-width="2.670" stroke-linecap="butt"><path d="M1102 1018.75C1119.79 1018.75 1135.04 983.89 1152.83 983.89C1170.62 983.89 1185.87 935.95 1203.66 935.95C1221.45 935.95 1236.7 962.1 1254.49 962.1C1272.28 962.1 1287.53 905.44 1305.32 905.44C1323.11 905.44 1338.36 949.02 1356.15 949.02C1373.94 949.02 1389.19 909.8 1406.98 909.8" stroke="#dcdafb"/><path d="M1102 1018.75C1119.79 1018.75 1135.04 931.59 1152.83 931.59C1170.62 931.59 1185.87 953.38 1203.66 953.38C1221.45 953.38 1236.7 935.95 1254.49 935.95C1272.28 935.95 1287.53 957.74 1305.32 957.74C1323.11 957.74 1338.36 909.8 1356.15 909.8C1373.94 909.8 1389.19 888.01 1406.98 888.01" stroke="#5d55e0"/></g></svg><div class="b" style="left:1102.000px;top:1081.400px;width:11px;height:11px;border-radius:50%;background:#635BFF"></div><div class="b" style="left:1102.000px;top:1118.900px;width:11px;height:11px;border-radius:50%;background:#eff0f4"></div><span class="t" style="top:1079px;font-size:18.60px;color:#333c47;left:1123.60px;transform-origin:0 50%;transform:scaleX(0.9658);">April 07 - April 14</span><span class="t" style="top:1116px;font-size:18.60px;color:#333c47;left:1122.59px;transform-origin:0 50%;transform:scaleX(1.0091);">Last Week</span><span class="t" style="top:1079px;font-size:18.60px;color:#333c47;right:512.85px;transform-origin:100% 50%;transform:scaleX(1.0349);">6,380</span><span class="t" style="top:1116px;font-size:18.60px;color:#333c47;right:512.85px;transform-origin:100% 50%;transform:scaleX(1.0219);">4,298</span><div class="card" style="left:1488px;top:740px;width:385.4px;height:440.6px"></div><span class="t" style="top:787px;font-size:24.60px;-webkit-text-stroke:0.98px #111c2d;color:#111c2d;left:1527.19px;transform-origin:0 50%;transform:scaleX(1.0089);">Sales Overview</span><span class="t" style="top:826px;font-size:20.40px;color:#98a4ae;left:1527.63px;transform-origin:0 50%;transform:scaleX(0.9700);">Last 7 days</span><svg class="c" style="left:0;top:0" width="1920" height="1200" viewBox="0 0 1920 1200"><g fill="none" stroke-width="11.800" stroke-linecap="round"><path d="M1681 895.4A102.4 102.4 0 1 1 1578.6 997.8" stroke="#f7f7f9"/><path d="M1681 914.6A83.2 83.2 0 1 1 1597.8 997.8" stroke="#f7f7f9"/><path d="M1681 933.8A64 64 0 1 1 1617 997.8" stroke="#f7f7f9"/><path d="M1681 895.4A102.4 102.4 0 0 1 1753.41 1070.21" stroke="#635BFF"/><path d="M1681 914.6A83.2 83.2 0 1 1 1632.1 1065.11" stroke="#16CDC7"/><path d="M1681 933.8A64 64 0 0 1 1744.21 987.79" stroke="#FF6692"/></g></svg><span class="t" style="top:867px;font-size:16.80px;color:#39414d;left:1667.60px;transform-origin:0 50%;transform:scaleX(1.0192);">0%</span><span class="t" style="top:1008px;font-size:16.80px;color:#39414d;left:1796.80px;transform-origin:0 50%;transform:scaleX(0.9927);">25</span><span class="t" style="top:1034px;font-size:16.80px;color:#39414d;left:1796.80px;">%</span><span class="t" style="top:1008px;font-size:16.80px;color:#39414d;left:1538.80px;transform-origin:0 50%;transform:scaleX(0.9491);">75</span><span class="t" style="top:1034px;font-size:16.80px;color:#39414d;left:1538.80px;">%</span><span class="t" style="top:1094px;font-size:16.80px;color:#39414d;left:1667.40px;transform-origin:0 50%;transform:scaleX(1.0582);">50</span><span class="t" style="top:1122px;font-size:16.80px;color:#39414d;left:1667.40px;">%</span><div class="b" style="left:1813.6px;top:1093.500px;width:74.200px;height:74.200px;border-radius:50%;background:#635BFF;box-shadow:0 2px 6px rgba(99,91,255,.12)"></div><svg class="i" style="left:1834.70px;top:1114.60px;color:#fff" width="32.00" height="32.00" viewBox="0 0 24 24" stroke-width="2"><path d="M10.325 4.317c.426-1.756 2.924-1.756 3.350 0a1.724 1.724 0 0 0 2.573 1.066c1.543-.940 3.310.826 2.370 2.370a1.724 1.724 0 0 0 1.065 2.572c1.756.426 1.756 2.924 0 3.350a1.724 1.724 0 0 0-1.066 2.573c.940 1.543-.826 3.310-2.370 2.370a1.724 1.724 0 0 0-2.572 1.065c-.426 1.756-2.924 1.756-3.350 0a1.724 1.724 0 0 0-2.573-1.066c-1.543.940-3.310-.826-2.370-2.370a1.724 1.724 0 0 0-1.065-2.572c-1.756-.426-1.756-2.924 0-3.350a1.724 1.724 0 0 0 1.066-2.573c-.940-1.543.826-3.310 2.370-2.370 1 .608 2.296.070 2.572-1.065z"/><circle cx="12" cy="12" r="3"/></svg></div></body></html>
